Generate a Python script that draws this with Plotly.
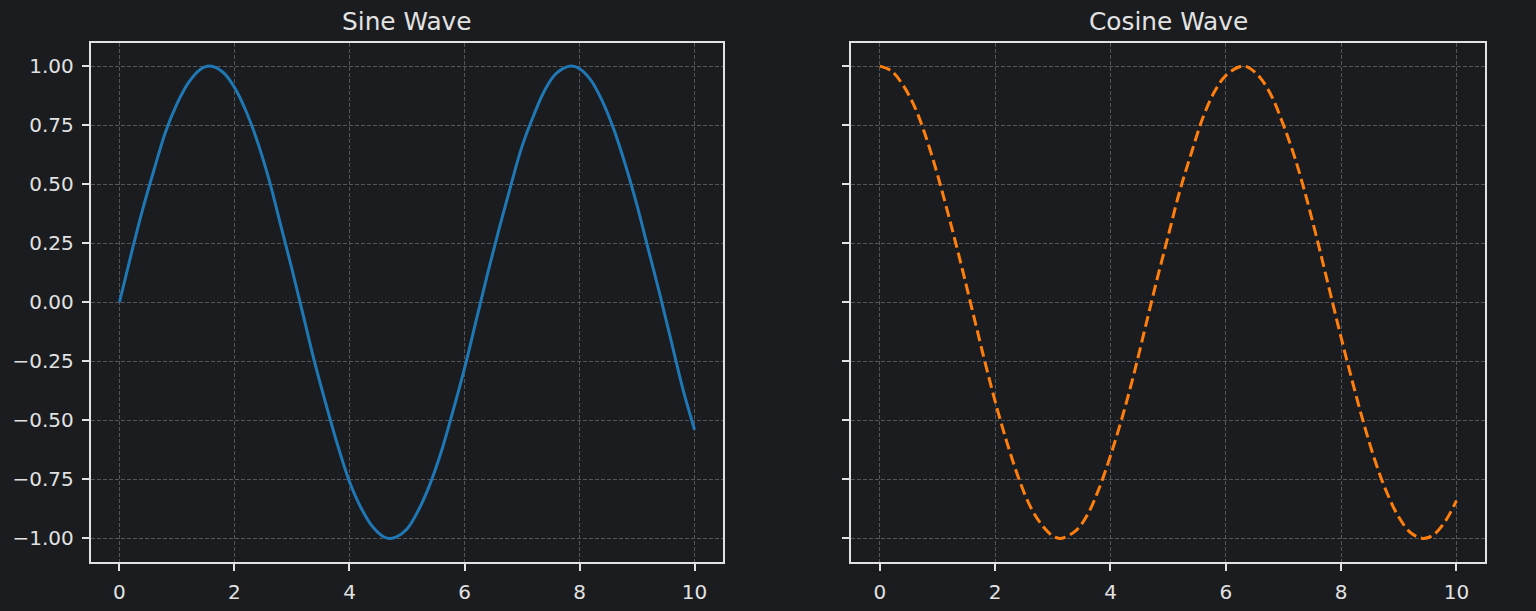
import plotly.graph_objects as go

sine_x = [0.0, 0.2, 0.4, 0.6, 0.8, 1.0, 1.2, 1.4, 1.57, 1.8, 2.0, 2.2, 2.4, 2.6, 2.8, 3.0, 3.2, 3.4, 3.6, 3.8,
          4.0, 4.2, 4.4, 4.6, 4.71, 4.8, 5.0, 5.2, 5.4, 5.6, 5.8, 6.0, 6.2, 6.4, 6.6, 6.8, 7.0, 7.2, 7.4, 7.6,
          7.85, 8.0, 8.2, 8.4, 8.6, 8.8, 9.0, 9.2, 9.4, 9.6, 9.8, 10.0]
sine_vals = [0.00, 0.20, 0.39, 0.56, 0.72, 0.84, 0.93, 0.985, 1.00, 0.974, 0.91, 0.81, 0.68, 0.52, 0.33, 0.14,
             -0.06, -0.26, -0.44, -0.61, -0.76, -0.87, -0.95, -0.994, -1.00, -0.996, -0.96, -0.88, -0.77, -0.63,
             -0.46, -0.28, -0.08, 0.12, 0.31, 0.49, 0.66, 0.79, 0.90, 0.97, 1.00, 0.989, 0.94, 0.85, 0.73, 0.58,
             0.41, 0.22, 0.03, -0.17, -0.37, -0.54]
cosine_x = [0.0, 0.2, 0.4, 0.6, 0.8, 1.0, 1.2, 1.4, 1.6, 1.8, 2.0, 2.2, 2.4, 2.6, 2.8, 3.0, 3.14, 3.4, 3.6, 3.8,
            4.0, 4.2, 4.4, 4.6, 4.8, 5.0, 5.2, 5.4, 5.6, 5.8, 6.0, 6.28, 6.4, 6.6, 6.8, 7.0, 7.2, 7.4, 7.6, 7.8,
            8.0, 8.2, 8.4, 8.6, 8.8, 9.0, 9.2, 9.42, 9.6, 9.8, 10.0]
cosine_vals = [1.00, 0.98, 0.92, 0.83, 0.70, 0.54, 0.36, 0.17, -0.03, -0.23, -0.42, -0.59, -0.74, -0.86, -0.94,
               -0.99, -1.00, -0.967, -0.90, -0.79, -0.65, -0.49, -0.31, -0.11, 0.09, 0.28, 0.47, 0.63, 0.78, 0.89,
               0.96, 1.00, 0.993, 0.95, 0.87, 0.75, 0.61, 0.44, 0.25, 0.05, -0.15, -0.34, -0.52, -0.68, -0.81,
               -0.91, -0.975, -1.00, -0.985, -0.93, -0.84]
titles = ["Sine Wave", "Cosine Wave"]
x_ticks = [0, 2, 4, 6, 8, 10]
y_ticks = [1.00, 0.75, 0.50, 0.25, 0.00, -0.25, -0.50, -0.75, -1.00]

BG = "#1b1c1f"
FG = "#e2e2e2"
GRID = "#55565a"
W, H = 1536, 611

fig = go.Figure()
fig.add_trace(go.Scatter(x=sine_x, y=sine_vals, mode="lines", line=dict(color="#1f77b4", width=3, shape="spline"),
                         xaxis="x", yaxis="y", showlegend=False))
fig.add_trace(go.Scatter(x=cosine_x, y=cosine_vals, mode="lines",
                         line=dict(color="#ff7f0e", width=3, dash="11px,5px", shape="spline"),
                         xaxis="x2", yaxis="y2", showlegend=False))

axis_common = dict(showline=True, mirror=True, linecolor=FG, linewidth=1.8,
                   ticks="outside", ticklen=7, tickwidth=1.8, tickcolor=FG,
                   showgrid=True, gridcolor=GRID, gridwidth=1, griddash="4px,2px",
                   zeroline=False, ticklabelstandoff=4,
                   tickfont=dict(family="DejaVu Sans", size=20, color=FG))

ydom = [1 - 562 / H, 1 - 42.5 / H]
fig.update_layout(
    width=W, height=H,
    paper_bgcolor=BG, plot_bgcolor=BG,
    margin=dict(l=0, r=0, t=0, b=0),
    xaxis=dict(domain=[90.7 / W, 723.3 / W], range=[-0.5, 10.5], tickvals=x_ticks, anchor="y", **axis_common),
    yaxis=dict(domain=ydom, range=[-1.1, 1.1], tickvals=y_ticks, tickformat=".2f",
               anchor="x", **axis_common),
    xaxis2=dict(domain=[851 / W, 1485.3 / W], range=[-0.5, 10.5], tickvals=x_ticks, anchor="y2", **axis_common),
    yaxis2=dict(domain=ydom, range=[-1.1, 1.1], tickvals=y_ticks, showticklabels=False,
                anchor="x2", matches="y", **axis_common),
    annotations=[
        dict(text=titles[0], xref="paper", yref="paper", x=407 / W, y=1 - 22 / H, showarrow=False,
             xanchor="center", yanchor="middle", font=dict(family="DejaVu Sans", size=24.8, color=FG)),
        dict(text=titles[1], xref="paper", yref="paper", x=1168 / W, y=1 - 22 / H, showarrow=False,
             xanchor="center", yanchor="middle", font=dict(family="DejaVu Sans", size=24.8, color=FG)),
    ],
)

fig.write_html("out.html", config={"displayModeBar": False},
               post_script="document.body.style.margin='0px';document.body.style.overflow='hidden';")
